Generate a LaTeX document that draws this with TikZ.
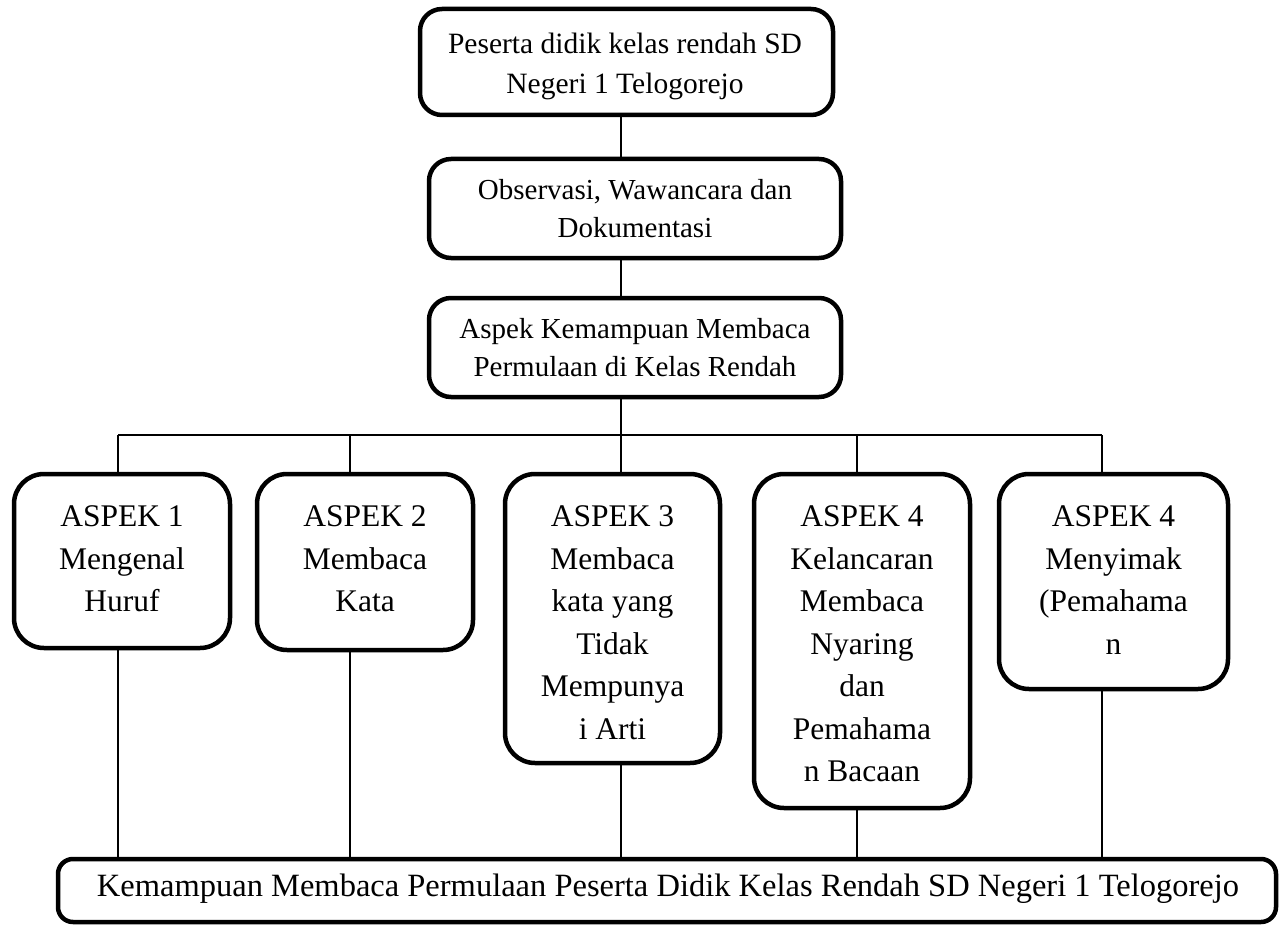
\documentclass[tikz,border=0pt]{standalone}
\usepackage{fontspec}
\setmainfont{Liberation Serif}
\begin{document}
\begin{tikzpicture}[x=1pt,y=-1pt,
  box/.style={draw,line width=4.5pt,inner sep=0pt},
  topbox/.style={box,rounded corners=22pt,align=center,font=\fontsize{29}{38}\selectfont},
  toptext/.style={align=center,inner sep=0pt,font=\fontsize{29.5}{40}\selectfont},
  aspbox/.style={box,rounded corners=30pt},
  asptext/.style={anchor=north,align=center,inner sep=0pt,font=\fontsize{31.5}{42.5}\selectfont},
  bottext/.style={inner sep=0pt,font=\fontsize{32.5}{40}\selectfont},
  conn/.style={line width=1.6pt}]
\useasboundingbox (0,0) rectangle (1287,928);
% top chain
\node[box,rounded corners=22pt,minimum width=413pt,minimum height=106pt] (t1) at (626.5,62) {};
\node[toptext] (t1t) at (625,66) {Peserta didik kelas rendah SD\\Negeri 1 Telogorejo};
\node[topbox,minimum width=412pt,minimum height=99pt] (t2) at (635,208.5) {Observasi, Wawancara dan\\Dokumentasi};
\node[topbox,minimum width=412pt,minimum height=99pt] (t3) at (635,347.5) {Aspek Kemampuan Membaca\\Permulaan di Kelas Rendah};
% aspect boxes
\node[aspbox,minimum width=216pt,minimum height=174pt] (a1) at (122,561) {};
\node[aspbox,minimum width=216pt,minimum height=176pt] (a2) at (365,562) {};
\node[aspbox,minimum width=215pt,minimum height=289pt] (a3) at (612.5,618.5) {};
\node[aspbox,minimum width=216pt,minimum height=334pt] (a4) at (862,641) {};
\node[aspbox,minimum width=229pt,minimum height=215pt] (a5) at (1113.5,581.5) {};
\node[asptext,yshift=-34pt] (a1t) at (a1.north) {ASPEK 1\\Mengenal\\Huruf};
\node[asptext,yshift=-34pt] (a2t) at (a2.north) {ASPEK 2\\Membaca\\Kata};
\node[asptext,yshift=-34pt] (a3t) at (a3.north) {ASPEK 3\\Membaca\\kata yang\\Tidak\\Mempunya\\i Arti};
\node[asptext,yshift=-34pt] (a4t) at (a4.north) {ASPEK 4\\Kelancaran\\Membaca\\Nyaring\\dan\\Pemahama\\n Bacaan};
\node[asptext,yshift=-34pt] (a5t) at (a5.north) {ASPEK 4\\Menyimak\\(Pemahama\\n};
% bottom box
\node[box,rounded corners=15pt,minimum width=1218pt,minimum height=63pt] (bot) at (667,890.5) {};
\node[bottext] (bott) at (668,889) {Kemampuan Membaca Permulaan Peserta Didik Kelas Rendah SD Negeri 1 Telogorejo};
% bus coordinates
\coordinate (bus) at (621,435);
\coordinate (b1) at (118,435);
\coordinate (b2) at (350,435);
\coordinate (b3) at (621,435);
\coordinate (b4) at (857,435);
\coordinate (b5) at (1102,435);
% connectors
\draw[conn] (t1.south -| bus) -- (bus |- t2.north);
\draw[conn] (t2.south -| bus) -- (bus |- t3.north);
\draw[conn] (t3.south -| bus) -- (bus);
\draw[conn] (b1) -- (b5);
\foreach \i in {1,...,5}{
  \draw[conn] (b\i) -- (b\i |- a\i.north);
  \draw[conn] (a\i.south -| b\i) -- (b\i |- bot.north);
}
\end{tikzpicture}
\end{document}
